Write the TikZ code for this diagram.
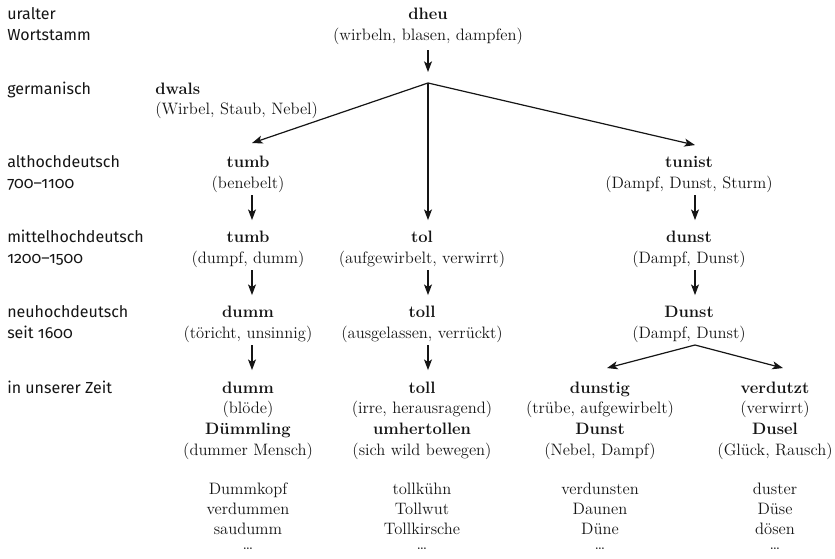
\documentclass[tikz,border=0pt]{standalone}
\usepackage{fontspec}
\usetikzlibrary{arrows.meta}
\newfontfamily\labfont[Numbers=OldStyle]{Fira Sans}
\definecolor{ink}{HTML}{151515}
\tikzset{
  lab/.style={anchor=base west, inner sep=0pt, font=\labfont\fontsize{12}{15}\selectfont, text=ink},
  wd/.style={anchor=base, inner sep=0pt, text height=9.5pt, text depth=3pt, font=\fontsize{12.4}{15}\selectfont, text=ink},
  hw/.style={wd, font=\fontsize{12.4}{15}\selectfont\bfseries},
  arr/.style={draw=ink, line width=0.9pt, -{Stealth[length=8pt,width=6pt,inset=2pt]}},
  arrv/.style={arr, shorten <=1.5pt, shorten >=7.5pt},
}
\begin{document}
\begin{tikzpicture}[x=0.75pt,y=-0.75pt]
\useasboundingbox[fill=white] (0,0) rectangle (835,559);
% period labels
\node[lab] (l1a) at (7,20) {uralter};
\node[lab] (l1b) at (7,41) {Wortstamm};
\node[lab] (l2)  at (7,95) {germanisch};
\node[lab] (l3a) at (7,168) {althochdeutsch};
\node[lab] (l3b) at (7,189) {700–1100};
\node[lab] (l4a) at (7,243) {mittelhochdeutsch};
\node[lab] (l4b) at (7,264) {1200–1500};
\node[lab] (l5a) at (7,318) {neuhochdeutsch};
\node[lab] (l5b) at (7,339) {seit 1600};
\node[lab] (l6)  at (7,393) {in unserer Zeit};
% root
\node[hw] (dheu)  at (428,20) {dheu};
\node[wd] (dheuB) at (428,41) {(wirbeln, blasen, dampfen)};
\node[hw, anchor=base west] (dwals)  at (155,95) {dwals};
\node[wd, anchor=base west] (dwalsB) at (155,115) {(Wirbel, Staub, Nebel)};
% column 1
\node[hw] (a3)  at (248,168) {tumb};
\node[wd] (a3b) at (248,189) {(benebelt)};
\node[hw] (a4)  at (248,243) {tumb};
\node[wd] (a4b) at (248,264) {(dumpf, dumm)};
\node[hw] (a5)  at (248,318) {dumm};
\node[wd] (a5b) at (248,339) {(töricht, unsinnig)};
\node[hw] (a6)  at (248,393) {dumm};
\node[wd] (a6b) at (248,413) {(blöde)};
\node[hw] (a7)  at (248,434) {Dümmling};
\node[wd] (a7b) at (248,455) {(dummer Mensch)};
\node[wd] (a8)  at (248,494) {Dummkopf};
\node[wd] (a9)  at (248,514) {verdummen};
\node[wd] (a10) at (248,534) {saudumm};
\node[wd] (a11) at (248,549) {\dots};
% column 2
\node[hw] (b4)  at (422,243) {tol};
\node[wd] (b4b) at (422,264) {(aufgewirbelt, verwirrt)};
\node[hw] (b5)  at (422,318) {toll};
\node[wd] (b5b) at (422,339) {(ausgelassen, verrückt)};
\node[hw] (b6)  at (422,393) {toll};
\node[wd] (b6b) at (422,413) {(irre, herausragend)};
\node[hw] (b7)  at (422,434) {umhertollen};
\node[wd] (b7b) at (422,455) {(sich wild bewegen)};
\node[wd] (b8)  at (422,494) {tollkühn};
\node[wd] (b9)  at (422,514) {Tollwut};
\node[wd] (b10) at (422,534) {Tollkirsche};
\node[wd] (b11) at (422,549) {\dots};
% column 3
\node[hw] (c3)  at (689,168) {tunist};
\node[wd] (c3b) at (689,189) {(Dampf, Dunst, Sturm)};
\node[hw] (c4)  at (689,243) {dunst};
\node[wd] (c4b) at (689,264) {(Dampf, Dunst)};
\node[hw] (c5)  at (689,318) {Dunst};
\node[wd] (c5b) at (689,339) {(Dampf, Dunst)};
% column 3a
\node[hw] (d6)  at (600,393) {dunstig};
\node[wd] (d6b) at (600,413) {(trübe, aufgewirbelt)};
\node[hw] (d7)  at (600,434) {Dunst};
\node[wd] (d7b) at (600,455) {(Nebel, Dampf)};
\node[wd] (d8)  at (600,494) {verdunsten};
\node[wd] (d9)  at (600,514) {Daunen};
\node[wd] (d10) at (600,534) {Düne};
\node[wd] (d11) at (600,549) {\dots};
% column 3b
\node[hw] (e6)  at (775,393) {verdutzt};
\node[wd] (e6b) at (775,413) {(verwirrt)};
\node[hw] (e7)  at (775,434) {Dusel};
\node[wd] (e7b) at (775,455) {(Glück, Rausch)};
\node[wd] (e8)  at (775,494) {duster};
\node[wd] (e9)  at (775,514) {Düse};
\node[wd] (e10) at (775,534) {dösen};
\node[wd] (e11) at (775,549) {\dots};
% connectors
\coordinate (br) at (428,83);
\draw[arr, shorten <=3.75pt, shorten >=8.25pt] (dheuB.south) -- (br);
\draw[arr] (br) -- ([xshift=3pt,yshift=9pt]a3.north);
\draw[arrv, shorten <=0pt] (br) -- ([xshift=4.5pt]b4.north);
\draw[arr] (br) -- ([xshift=4.5pt,yshift=7.5pt]c3.north);
\draw[arrv] ([xshift=3pt]a3b.south) -- ([xshift=3pt]a4.north);
\draw[arrv] ([xshift=3pt]a4b.south) -- ([xshift=3pt]a5.north);
\draw[arrv] ([xshift=3pt]a5b.south) -- ([xshift=3pt]a6.north);
\draw[arrv] ([xshift=4.5pt]b4b.south) -- ([xshift=4.5pt]b5.north);
\draw[arrv] ([xshift=4.5pt]b5b.south) -- ([xshift=4.5pt]b6.north);
\draw[arrv] ([xshift=4.5pt]c3b.south) -- ([xshift=4.5pt]c4.north);
\draw[arrv] ([xshift=4.5pt]c4b.south) -- ([xshift=4.5pt]c5.north);
\coordinate (br2) at (695,345);
\draw[arr] (br2) -- ([xshift=5.25pt,yshift=9pt]d6.north);
\draw[arr] (br2) -- ([xshift=6pt,yshift=9pt]e6.north);
\end{tikzpicture}
\end{document}
